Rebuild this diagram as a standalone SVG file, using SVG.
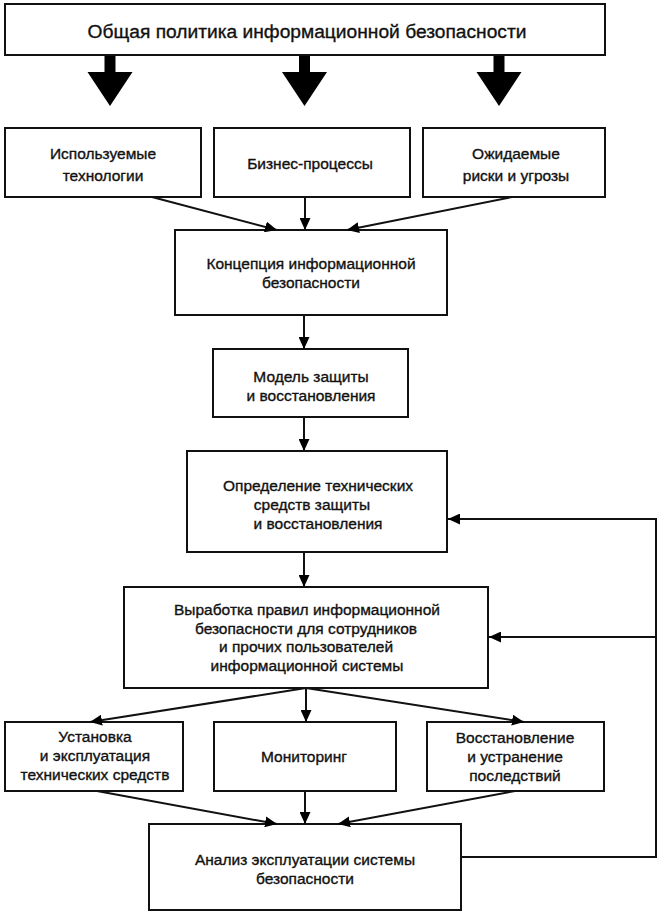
<svg xmlns="http://www.w3.org/2000/svg" width="671" height="922" viewBox="0 0 671 922">
<style>
.box{fill:#fff;stroke:#111;stroke-width:2}
.t{font-family:"Liberation Sans",Arial,sans-serif;font-size:15.5px;fill:#111;stroke:#111;stroke-width:0.35;text-anchor:middle}
.title{font-size:19.2px}
.ln{fill:none;stroke:#111;stroke-width:2}
.big{fill:#000}
</style>
<defs>
<marker id="ah" markerUnits="userSpaceOnUse" markerWidth="12" markerHeight="11" refX="12" refY="5.5" orient="auto" viewBox="0 0 12 11">
<path d="M0,0 L12,5.5 L0,11 z" fill="#000"/>
</marker>
</defs>
<rect width="671" height="922" fill="#fff"/>

<g id="policy">
<rect class="box" x="5" y="4" width="600" height="51"/>
<text class="t title" x="307" y="38">Общая политика информационной безопасности</text>
</g>
<g id="tech">
<rect class="box" x="5" y="128" width="196" height="69"/>
<text class="t" x="103" y="159">Используемые</text>
<text class="t" x="103" y="181">технологии</text>
</g>
<g id="business">
<rect class="box" x="214" y="128" width="196" height="69"/>
<text class="t" x="310" y="169">Бизнес-процессы</text>
</g>
<g id="risks">
<rect class="box" x="423" y="128" width="182" height="69"/>
<text class="t" x="516" y="159">Ожидаемые</text>
<text class="t" x="516" y="181">риски и угрозы</text>
</g>
<g id="concept">
<rect class="box" x="175" y="230" width="272" height="85"/>
<text class="t" x="311" y="269">Концепция информационной</text>
<text class="t" x="311" y="288">безопасности</text>
</g>
<g id="model">
<rect class="box" x="213" y="349" width="195" height="68"/>
<text class="t" x="311" y="382">Модель защиты</text>
<text class="t" x="311" y="401">и восстановления</text>
</g>
<g id="define">
<rect class="box" x="187" y="451" width="260" height="101"/>
<text class="t" x="318" y="491">Определение технических</text>
<text class="t" x="312" y="510">средств защиты</text>
<text class="t" x="318" y="529">и восстановления</text>
</g>
<g id="rules">
<rect class="box" x="124" y="587" width="364" height="101"/>
<text class="t" x="307" y="615">Выработка правил информационной</text>
<text class="t" x="306" y="634">безопасности для сотрудников</text>
<text class="t" x="306" y="652">и прочих пользователей</text>
<text class="t" x="307" y="671">информационной системы</text>
</g>
<g id="install">
<rect class="box" x="5" y="722" width="178" height="69"/>
<text class="t" x="95" y="742">Установка</text>
<text class="t" x="95" y="761">и эксплуатация</text>
<text class="t" x="95" y="780">технических средств</text>
</g>
<g id="monitoring">
<rect class="box" x="214" y="722" width="182" height="69"/>
<text class="t" x="304" y="762">Мониторинг</text>
</g>
<g id="recovery">
<rect class="box" x="427" y="722" width="177" height="69"/>
<text class="t" x="515" y="743">Восстановление</text>
<text class="t" x="515" y="762">и устранение</text>
<text class="t" x="515" y="781">последствий</text>
</g>
<g id="analysis">
<rect class="box" x="149" y="824" width="312" height="86"/>
<text class="t" x="305" y="865">Анализ эксплуатации системы</text>
<text class="t" x="305" y="884">безопасности</text>
</g>

<g id="connectors">
<path class="big" d="M104.5,56 h11 v16 h17 L110,106 L87.5,72 h17 z"/>
<path class="big" d="M299,56 h11 v16 h17 L304.5,106 L282,72 h17 z"/>
<path class="big" d="M493.5,56 h11 v16 h17 L499,106 L476.5,72 h17 z"/>
<line class="ln" x1="152" y1="197" x2="277" y2="230" marker-end="url(#ah)"/>
<line class="ln" x1="305" y1="197" x2="305" y2="230" marker-end="url(#ah)"/>
<line class="ln" x1="512" y1="197" x2="347" y2="230" marker-end="url(#ah)"/>
<line class="ln" x1="304" y1="315" x2="304" y2="349" marker-end="url(#ah)"/>
<line class="ln" x1="304" y1="417" x2="304" y2="451" marker-end="url(#ah)"/>
<line class="ln" x1="304" y1="552" x2="304" y2="587" marker-end="url(#ah)"/>
<line class="ln" x1="306" y1="688" x2="90" y2="722" marker-end="url(#ah)"/>
<line class="ln" x1="306" y1="688" x2="306" y2="722" marker-end="url(#ah)"/>
<line class="ln" x1="306" y1="688" x2="524" y2="722" marker-end="url(#ah)"/>
<line class="ln" x1="97" y1="791" x2="277" y2="824" marker-end="url(#ah)"/>
<line class="ln" x1="305" y1="791" x2="305" y2="824" marker-end="url(#ah)"/>
<line class="ln" x1="515" y1="791" x2="338" y2="824" marker-end="url(#ah)"/>
<path class="ln" d="M461,857 H656 V519 H448" marker-end="url(#ah)"/>
<line class="ln" x1="656" y1="637" x2="489" y2="637" marker-end="url(#ah)"/>
</g>
</svg>
